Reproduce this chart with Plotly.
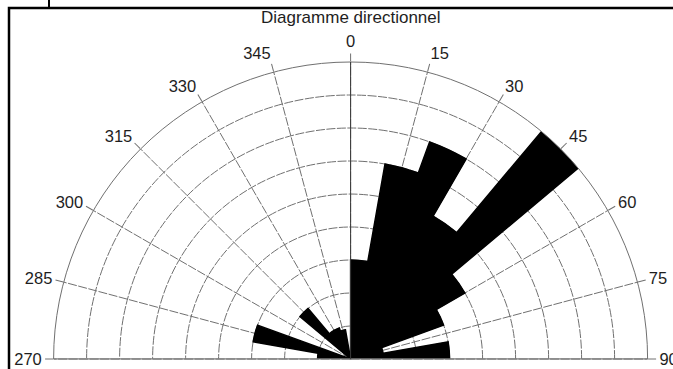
import plotly.graph_objects as go

# Direction bins (centre of each 10-degree sector) and their counts
directions = [5, 15, 25, 35, 45, 55, 65, 75, 85,
              275, 285, 295, 305, 315, 325, 335, 345, 355]
counts = [3, 6, 7, 5, 9, 4, 3, 1, 3,
          1, 3, 0, 0, 2, 1, 1, 0.9, 0]
bin_width = 10

# Compass tick positions and their labels
tick_angles = [270, 285, 300, 315, 330, 345, 0, 15, 30, 45, 60, 75, 90]
tick_labels = ["270", "285", "300", "315", "330", "345", "0",
               "15", "30", "45", "60", "75", "90"]
# plotly keeps the visible half-disc in the signed range [-90, 90]
tick_vals_signed = [a - 360 if a > 180 else a for a in tick_angles]

# Scale and baseline
r_max = 9
baseline_theta = [270, 0, 90]
baseline_r = [r_max, 0, r_max]

W, H = 673, 369
cx, cy, R = 350.6, 359.0, 297.0

font_family = "Liberation Sans, Arial, sans-serif"
grid_col = "#707070"
grid_dash = "9px,1.5px"

fig = go.Figure()

fig.add_trace(go.Scatterpolar(
    r=baseline_r, theta=baseline_theta, mode="lines",
    line=dict(color="#9a9a9a", width=1), hoverinfo="skip", showlegend=False,
))

fig.add_trace(go.Barpolar(
    r=counts, theta=directions, width=[bin_width] * len(directions),
    marker=dict(color="black", line=dict(width=1.5, color="black")),
    showlegend=False,
))

fig.update_layout(
    width=W, height=H,
    margin=dict(l=0, r=0, t=0, b=0),
    paper_bgcolor="white",
    font=dict(family=font_family, color="#222222"),
    polar=dict(
        domain=dict(x=[(cx - R) / W, (cx + R) / W],
                    y=[(H - cy) / H, (H - cy + R) / H]),
        sector=[0, 180],
        bgcolor="white",
        radialaxis=dict(
            range=[0, r_max], dtick=1, tick0=0,
            showticklabels=False, ticks="",
            showline=True, linecolor="#3a3a3a", linewidth=1,
            angle=90,
            showgrid=True, gridcolor=grid_col, gridwidth=1, griddash=grid_dash,
        ),
        angularaxis=dict(
            rotation=90, direction="clockwise",
            tickmode="array", tickvals=tick_vals_signed, ticktext=tick_labels,
            ticksuffix="",
            ticks="outside", ticklen=8, tickcolor=grid_col, tickwidth=1,
            tickfont=dict(size=16.5, family=font_family, color="#1e1e1e"),
            showline=True, linecolor=grid_col, linewidth=1,
            showgrid=True, gridcolor=grid_col, gridwidth=1, griddash=grid_dash,
        ),
    ),
    annotations=[dict(
        text="Diagramme directionnel", xref="paper", yref="paper",
        x=cx / W, y=(H - 17) / H, xanchor="center", yanchor="middle",
        showarrow=False, font=dict(size=17, family=font_family, color="#1e1e1e"),
    )],
    shapes=[
        # surrounding frame
        dict(type="rect", xref="paper", yref="paper",
             x0=9 / W, x1=1.05, y0=-0.05, y1=(H - 8) / H,
             line=dict(color="black", width=2.5)),
        dict(type="line", xref="paper", yref="paper",
             x0=49 / W, x1=49 / W, y0=(H - 8) / H, y1=1.0,
             line=dict(color="black", width=2)),
    ],
)

fig.write_html("out.html")
